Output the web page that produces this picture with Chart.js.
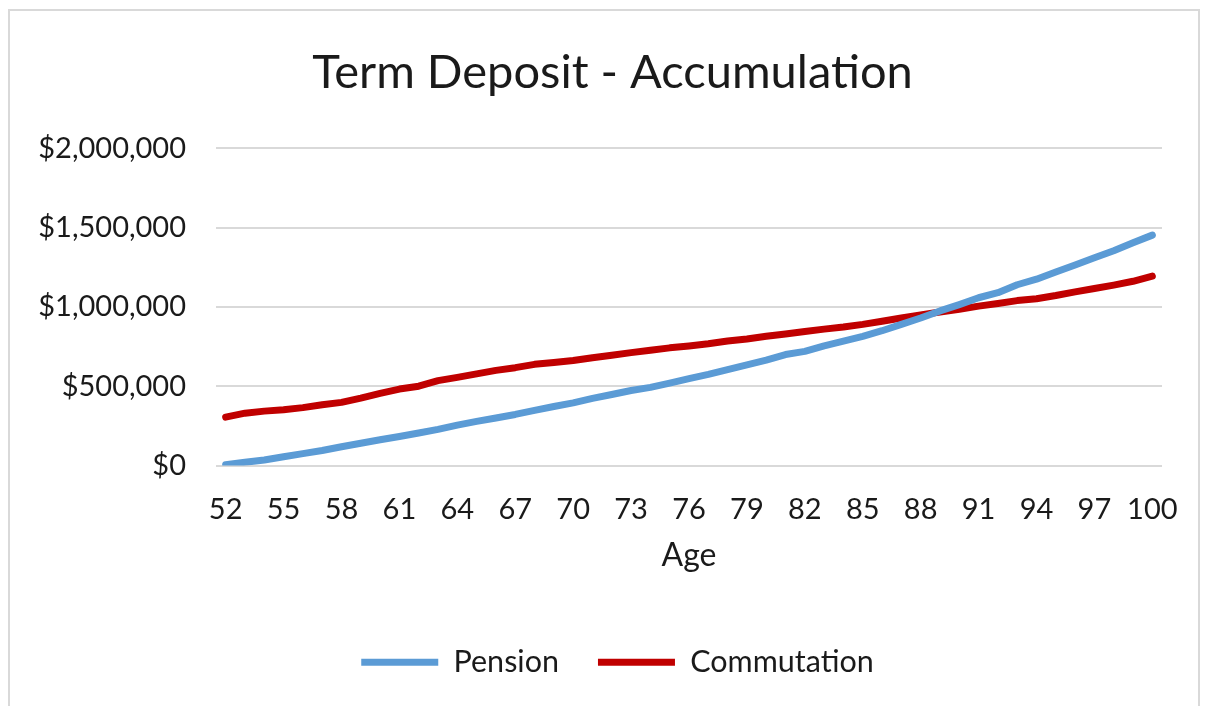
<!DOCTYPE html>
<html>
<head>
<meta charset="utf-8">
<title>Term Deposit - Accumulation</title>
<script src="https://cdn.jsdelivr.net/npm/chart.js@4/dist/chart.umd.min.js"></script>
<style>
    html, body { margin: 0; padding: 0; background: #ffffff; }
    #marco {
        position: absolute; left: 8px; top: 9px; width: 1192px; height: 720px;
        border: 2px solid #d9d9d9; box-sizing: border-box;
    }
    #lienzo { position: absolute; left: 0; top: 0; }
</style>
</head>
<body>
<div id="marco"></div>
<canvas id="lienzo" width="1205" height="706"></canvas>
<script>
"use strict";

////////////////////////////////////////////////////// datos
var ages = [52, 53, 54, 55, 56, 57, 58, 59, 60, 61, 62, 63, 64, 65, 66, 67, 68, 69, 70, 71, 72, 73, 74, 75, 76,
    77, 78, 79, 80, 81, 82, 83, 84, 85, 86, 87, 88, 89, 90, 91, 92, 93, 94, 95, 96, 97, 98, 99, 100];
var pension = [5000, 20000, 35000, 55000, 75000, 95000, 118000, 140000, 162000, 183000, 205000, 228000,
    255000, 278000, 300000, 322000, 348000, 372000, 395000, 423000, 448000, 473000, 493000, 520000, 548000,
    575000, 605000, 635000, 665000, 700000, 720000, 755000, 785000, 815000, 850000, 890000, 930000, 975000,
    1015000, 1058000, 1090000, 1140000, 1175000, 1220000, 1265000, 1310000, 1355000, 1405000, 1453000];
var commutation = [305000, 330000, 343000, 352000, 365000, 383000, 398000, 425000, 455000, 482000, 500000,
    535000, 556000, 578000, 600000, 617000, 638000, 650000, 662000, 680000, 695000, 712000, 727000, 742000,
    754000, 768000, 785000, 798000, 815000, 830000, 845000, 860000, 873000, 890000, 910000, 930000, 950000,
    968000, 985000, 1005000, 1022000, 1040000, 1052000, 1072000, 1095000, 1116000, 1138000, 1162000, 1194000];
var seriesNames = ["Pension", "Commutation"];
var yMax = 2000000;
var yStep = 500000;

////////////////////////////////////////////////////// estilo
var fuente = "Lato, 'Open Sans', sans-serif";
var colorTexto = "#1a1a1a";
var colorRejilla = "#d9d9d9";
var desplazaLeyenda = 31; // la leyenda de Excel no queda centrada en el lienzo
var desplazaTitulo = 26;

function serie(label, data, color) {
    return {
        label: label,
        data: data,
        borderColor: color,
        backgroundColor: color,
        borderWidth: 7,
        borderCapStyle: "round",
        borderJoinStyle: "round",
        pointRadius: 0,
        pointHoverRadius: 0,
        tension: 0,
        fill: false,
    };
}

function formatoDolar(v) {
    return "$" + Number(v).toLocaleString("en-US");
}

var moverCajas = {
    id: "moverCajas",
    afterLayout: function (chart) {
        chart.legend.left += desplazaLeyenda;
        chart.legend.right += desplazaLeyenda;
        chart.titleBlock.left += desplazaTitulo;
        chart.titleBlock.right += desplazaTitulo;
    },
};

////////////////////////////////////////////////////// grafico
var ctx = document.getElementById("lienzo").getContext("2d");
new Chart(ctx, {
    type: "line",
    data: {
        labels: ages,
        datasets: [
            serie(seriesNames[0], pension, "#5b9bd5"),
            serie(seriesNames[1], commutation, "#c00000"),
        ],
    },
    plugins: [moverCajas],
    options: {
        responsive: false,
        animation: false,
        layout: { padding: { left: 10, right: 42, top: 0, bottom: 18.5 } },
        plugins: {
            title: {
                display: true,
                text: "Term Deposit - Accumulation",
                color: colorTexto,
                font: { family: fuente, size: 47, weight: "normal" },
                padding: { top: 45, bottom: 47 },
            },
            legend: {
                position: "bottom",
                labels: {
                    color: colorTexto,
                    font: { family: fuente, size: 30.5 },
                    usePointStyle: true,
                    pointStyle: "line",
                    pointStyleWidth: 77,
                    boxWidth: 77,
                    padding: 39,
                },
            },
            tooltip: { enabled: false },
        },
        scales: {
            x: {
                offset: true,
                grid: { display: false, drawTicks: false },
                border: { display: false },
                ticks: {
                    color: colorTexto,
                    font: { family: fuente, size: 29 },
                    padding: 27,
                    autoSkip: false,
                    maxRotation: 0,
                    callback: function (value, index) {
                        return index % 3 === 0 ? ages[index] : "";
                    },
                },
                title: {
                    display: true,
                    text: "Age",
                    color: colorTexto,
                    font: { family: fuente, size: 32 },
                    padding: { top: 10, bottom: 33 },
                },
                afterFit: function (scale) {
                    scale.height = 142.5;
                },
            },
            y: {
                min: 0,
                max: yMax,
                grid: { color: colorRejilla, lineWidth: 2, drawTicks: false },
                border: { display: false },
                ticks: {
                    stepSize: yStep,
                    color: colorTexto,
                    font: { family: fuente, size: 29 },
                    padding: 30,
                    callback: function (value) {
                        return formatoDolar(value);
                    },
                },
                afterFit: function (scale) {
                    scale.width = 206;
                },
            },
        },
    },
});
</script>
</body>
</html>
